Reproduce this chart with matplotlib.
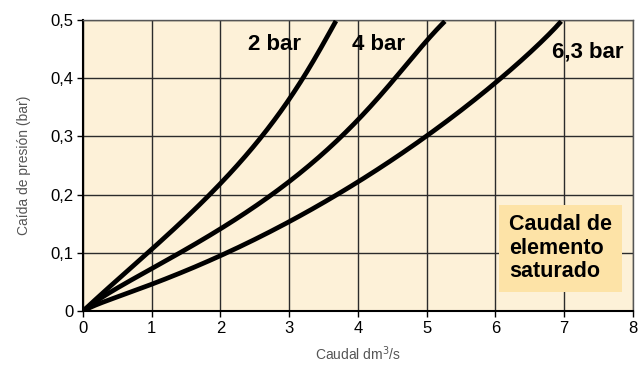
import numpy as np
import matplotlib.pyplot as plt
from numpy.polynomial import polynomial as P

plt.rcParams['font.family'] = ['Liberation Sans', 'DejaVu Sans']

# caudal (dm3/s) vs caida de presion (bar) for each pressure
q_2bar = [0, 0.5, 0.93, 1.4, 1.85, 2.25, 2.6, 3.0, 3.19, 3.45, 3.69]
dp_2bar = [0, 0.052, 0.1, 0.15, 0.2, 0.25, 0.3, 0.363, 0.4, 0.45, 0.5]

q_4bar = [0, 0.5, 1.0, 1.43, 2.0, 2.81, 3.3, 3.72, 4.15, 4.54, 4.92, 5.27]
dp_4bar = [0, 0.04, 0.0756, 0.1, 0.141, 0.2, 0.25, 0.3, 0.35, 0.4, 0.45, 0.5]

q_63bar = [0, 0.5, 1, 2, 3, 4, 5, 6, 6.5, 6.98]
dp_63bar = [0, 0.024, 0.045, 0.098, 0.151, 0.222, 0.3, 0.393, 0.445, 0.5]

curve_labels = ["2 bar", "4 bar", "6,3 bar"]
xticks = [0, 1, 2, 3, 4, 5, 6, 7, 8]
yticks = [0, 0.1, 0.2, 0.3, 0.4, 0.5]
ytick_labels = ["0", "0,1", "0,2", "0,3", "0,4", "0,5"]


def smooth(q, dp, n=200):
    # smooth curve through the read points (4th order fit in a parameter)
    q = np.asarray(q, float)
    dp = np.asarray(dp, float)
    t = np.linspace(0, 1, len(q))
    tt = np.linspace(0, 1, n)
    cq = P.polyfit(t, q, 4)
    cd = P.polyfit(t, dp, 4)
    return P.polyval(tt, cq), P.polyval(tt, cd)


fig = plt.figure(figsize=(6.38, 3.65), dpi=100)
ax = fig.add_axes([0.130, 0.148, 0.862, 0.797])
ax.set_facecolor("#fdf1d8")

for q, dp in [(q_2bar, dp_2bar), (q_4bar, dp_4bar), (q_63bar, dp_63bar)]:
    xs, ys = smooth(q, dp)
    ax.plot(xs, ys, color="black", lw=3.4, solid_capstyle="butt", zorder=3)

ax.set_xlim(0, 8)
ax.set_ylim(0, 0.5)
ax.set_xticks(xticks)
ax.set_yticks(yticks)
ax.set_yticklabels(ytick_labels)
ax.tick_params(labelsize=12, length=4, width=1, direction="out", pad=3)

ax.grid(True, color="#2b2b2b", lw=1)
ax.set_axisbelow(True)
for s in ["top", "right"]:
    ax.spines[s].set_color("#555555")
    ax.spines[s].set_linewidth(1)
for s in ["left", "bottom"]:
    ax.spines[s].set_color("black")
    ax.spines[s].set_linewidth(1.5)

ax.text(2.78, 0.458, curve_labels[0], fontsize=16, fontweight="bold",
        ha="center", va="center", zorder=4)
ax.text(4.3, 0.458, curve_labels[1], fontsize=16, fontweight="bold",
        ha="center", va="center", zorder=4)
ax.text(7.35, 0.445, curve_labels[2], fontsize=16, fontweight="bold",
        ha="center", va="center", zorder=4)

ax.text(6.2, 0.108, "Caudal de\nelemento\nsaturado", fontsize=15.5,
        fontweight="bold", ha="left", va="center", linespacing=1.15,
        zorder=4,
        bbox=dict(boxstyle="square,pad=0.45", fc="#fde3a7", ec="none"))

ax.set_ylabel("Caída de presión (bar)", fontsize=10, color="#555555",
              labelpad=14)
ax.set_xlabel("Caudal dm$^3$/s", fontsize=10, color="#555555", labelpad=6)

fig.savefig("out.png", dpi=100)
